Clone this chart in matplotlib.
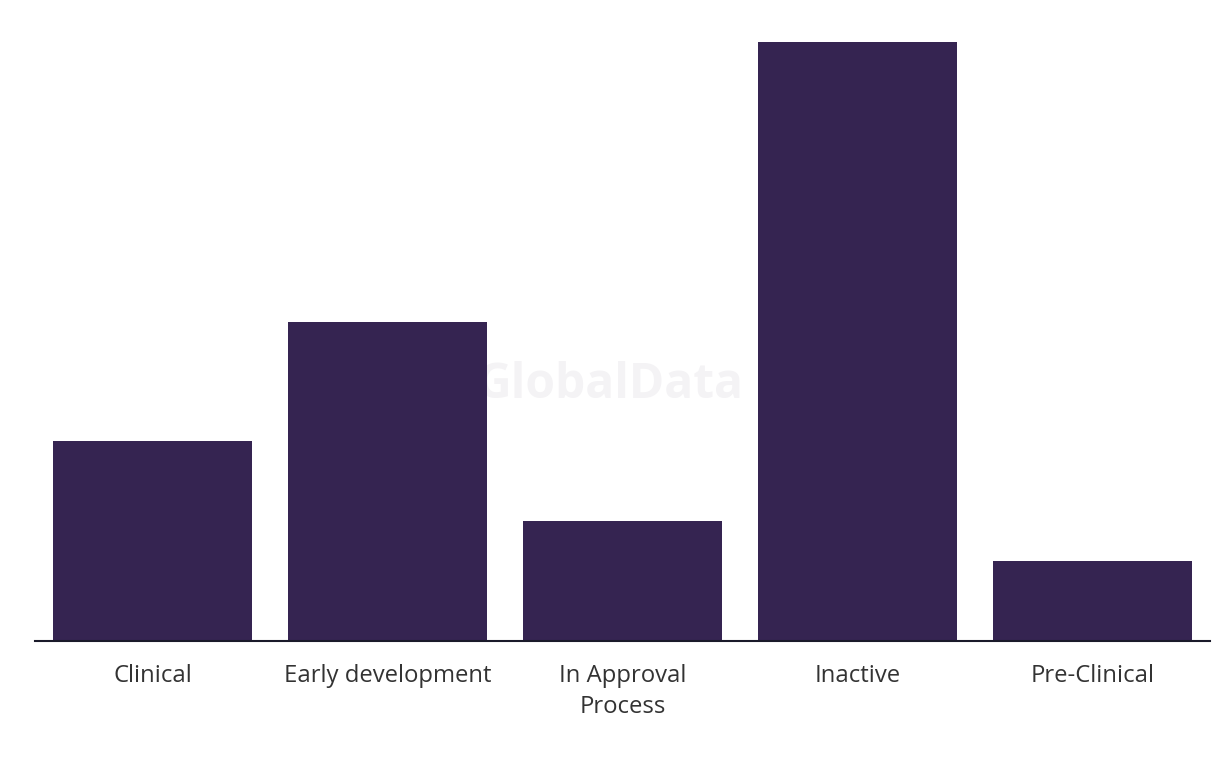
import matplotlib
matplotlib.use("Agg")
import matplotlib.pyplot as plt

# deal counts by stage
stages = ["Clinical", "Early development", "In Approval\nProcess", "Inactive", "Pre-Clinical"]
counts = [5, 8, 3, 15, 2]

bar_color = "#352451"

plt.rcParams['font.family'] = ['Open Sans', 'DejaVu Sans']

fig = plt.figure(figsize=(12.2, 7.66), dpi=100)
ax = fig.add_axes([35 / 1220, 1 - 641 / 766, 1175 / 1220, 599 / 766])

x = range(len(stages))
ax.bar(x, counts, width=0.85, color=bar_color, zorder=2)

ax.set_xlim(-0.5, len(stages) - 0.5)
ax.set_ylim(0, 15)
ax.set_xticks(list(x))
ax.set_xticklabels(stages, fontsize=17.2, color="#333333", linespacing=1.42)
ax.tick_params(axis="x", length=0, pad=16.5)
ax.set_yticks([])

for side in ["top", "right", "left"]:
    ax.spines[side].set_visible(False)
ax.spines["bottom"].set_color("#1a1a2a")
ax.spines["bottom"].set_linewidth(1.5)
ax.spines["bottom"].set_zorder(3)

# watermark sits behind the bars
ax.text(610 / 1220, 1 - 386 / 766, "GlobalData", fontsize=34.5, fontweight="bold",
        color="#f4f3f5", ha="center", va="center", zorder=1, transform=fig.transFigure)

fig.savefig("out.png", dpi=100)
